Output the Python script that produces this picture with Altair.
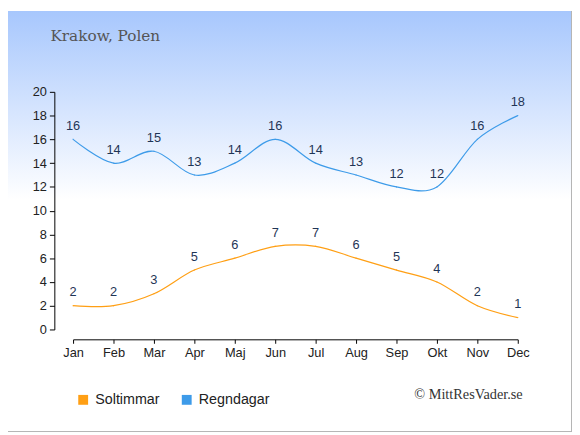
import altair as alt
import pandas as pd

months = ["Jan", "Feb", "Mar", "Apr", "Maj", "Jun", "Jul", "Aug", "Sep", "Okt", "Nov", "Dec"]
soltimmar = [2, 2, 3, 5, 6, 7, 7, 6, 5, 4, 2, 1]
regndagar = [16, 14, 15, 13, 14, 16, 14, 13, 12, 12, 16, 18]
series_names = ["Soltimmar", "Regndagar"]
series_colors = ["#ff9f14", "#3d9be9"]
title_text = "Krakow, Polen"
credit_text = "© MittResVader.se"
y_ticks = [0, 2, 4, 6, 8, 10, 12, 14, 16, 18, 20]

rows = []
for m, v in zip(months, soltimmar):
    rows.append({"month": m, "serie": "Soltimmar", "value": v})
for m, v in zip(months, regndagar):
    rows.append({"month": m, "serie": "Regndagar", "value": v})
df = pd.DataFrame(rows)
one = pd.DataFrame({"t": [title_text], "c": [credit_text]})

W, H = 451, 241
PL, PT = 66, 82
SVG_W, SVG_H = 572, 427

x_enc = alt.X("month:O", sort=months,
              scale=alt.Scale(type="point", padding=0),
              axis=alt.Axis(title=None, labelAngle=0, offset=10, tickSize=4,
                            labelPadding=3, labelFontSize=13, labelColor="#222",
                            labelFont="Liberation Sans", domainColor="#000",
                            tickColor="#000", grid=False, zindex=2))
y_enc = alt.Y("value:Q", scale=alt.Scale(domain=[0, 20], nice=False),
              axis=alt.Axis(title=None, values=y_ticks, offset=19, tickSize=5,
                            labelPadding=3, labelFontSize=13, labelColor="#222",
                            labelFont="Liberation Sans", domainColor="#000",
                            tickColor="#000", grid=False, zindex=2))

# background gradient only over the upper part (lower part is white anyway)
bg = alt.Chart(one).mark_rect(
    fill=alt.Gradient(gradient="linear",
                      stops=[alt.GradientStop(color="#a7c7fd", offset=0),
                             alt.GradientStop(color="#ffffff", offset=1)],
                      x1=0, x2=0, y1=0, y2=1)
).encode(x=alt.value(-PL), x2=alt.value(SVG_W - PL - 1),
         y=alt.value(-PT), y2=alt.value(110))

border_r = alt.Chart(one).mark_rule(color="#b4b4b4").encode(
    x=alt.value(SVG_W - PL - 0.5), y=alt.value(-PT), y2=alt.value(SVG_H - PT))
border_b = alt.Chart(one).mark_rule(color="#b4b4b4").encode(
    y=alt.value(SVG_H - PT - 0.5), x=alt.value(-PL), x2=alt.value(SVG_W - PL))

lines = alt.Chart(df).mark_line(interpolate="cardinal", strokeWidth=1.2).encode(
    x=x_enc, y=y_enc,
    stroke=alt.Stroke("serie:N", scale=alt.Scale(domain=series_names, range=series_colors),
                      legend=None),
    detail="serie:N")

labels = alt.Chart(df).mark_text(dy=-13.5, fontSize=13, font="Liberation Sans",
                                 color="#1f3556", baseline="middle").encode(
    x=x_enc, y=y_enc, text="value:Q")

legend_layer = alt.Chart(df).mark_point(
    shape="square", filled=True, size=1, opacity=1).encode(
    x=x_enc, y=y_enc,
    fill=alt.Fill("serie:N", scale=alt.Scale(domain=series_names, range=series_colors),
                  legend=alt.Legend(title=None, orient="none", legendX=3, legendY=305,
                                    direction="horizontal", symbolType="square",
                                    symbolSize=100, symbolStrokeWidth=0,
                                    labelFontSize=14.5, labelFont="Liberation Sans",
                                    labelColor="#222", labelOffset=5, columnPadding=20,
                                    padding=0, zindex=2)))

title = alt.Chart(one).mark_text(align="left", baseline="alphabetic", fontSize=15.5,
                                 font="DejaVu Serif", color="#555").encode(
    x=alt.value(-23), y=alt.value(-51.5), text="t:N")

credit = alt.Chart(one).mark_text(align="right", baseline="middle", fontSize=14.5,
                                  font="Liberation Serif", color="#333").encode(
    x=alt.value(456), y=alt.value(308), text="c:N")

chart = alt.layer(bg, border_r, border_b, legend_layer, lines, labels, title, credit).properties(
    width=W, height=H,
    autosize=alt.AutoSizeParams(type="none"),
    padding={"left": PL, "top": PT, "right": SVG_W - PL - W, "bottom": SVG_H - PT - H},
    background="white",
).configure_view(stroke=None)

chart.save("out.html", embed_options={"renderer": "svg", "actions": False})
